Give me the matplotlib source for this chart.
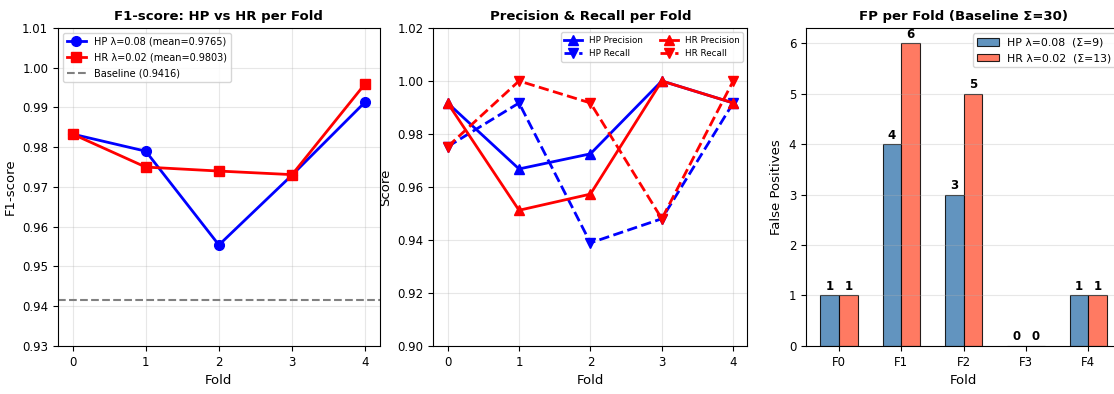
import numpy as np
import matplotlib
matplotlib.use('Agg')
import matplotlib.pyplot as plt

# data
folds = [0, 1, 2, 3, 4]
fold_labels = ['F0', 'F1', 'F2', 'F3', 'F4']

f1_hp = [0.9833, 0.9790, 0.9554, 0.9730, 0.9914]
f1_hr = [0.9833, 0.9750, 0.9740, 0.9731, 0.9960]
baseline_f1 = 0.9416

prec_hp = [0.9917, 0.9668, 0.9725, 1.0000, 0.9917]
rec_hp = [0.9752, 0.9917, 0.9389, 0.9480, 0.9917]
prec_hr = [0.9917, 0.9512, 0.9573, 1.0000, 0.9917]
rec_hr = [0.9752, 1.0000, 0.9917, 0.9480, 1.0000]

fp_hp = [1, 4, 3, 0, 1]
fp_hr = [1, 6, 5, 0, 1]

fig = plt.figure(figsize=(11.14, 3.94), dpi=100)
ax1 = fig.add_axes([0.052, 0.122, 0.289, 0.807])
ax2 = fig.add_axes([0.389, 0.122, 0.282, 0.807])
ax3 = fig.add_axes([0.7235, 0.122, 0.283, 0.807])

tick_fs = 8.5
lab_fs = 9.5
title_fs = 9.5

# panel 1: F1-score
ax1.plot(folds, f1_hp, 'o-', color='blue', lw=2, ms=7, label='HP λ=0.08 (mean=0.9765)')
ax1.plot(folds, f1_hr, 's-', color='red', lw=2, ms=7, label='HR λ=0.02 (mean=0.9803)')
ax1.axhline(baseline_f1, color='gray', ls='--', lw=1.5, label='Baseline (0.9416)')
ax1.set_ylim(0.93, 1.01)
ax1.set_xticks(folds)
ax1.set_xlabel('Fold', fontsize=lab_fs)
ax1.set_ylabel('F1-score', fontsize=lab_fs)
ax1.set_title('F1-score: HP vs HR per Fold', fontsize=title_fs, fontweight='bold')
ax1.grid(True, alpha=0.3)
ax1.legend(loc='upper left', fontsize=7, labelspacing=0.6)
ax1.tick_params(labelsize=tick_fs)

# panel 2: precision & recall
ax2.plot(folds, prec_hp, '^-', color='blue', lw=2, ms=7, label='HP Precision')
ax2.plot(folds, rec_hp, 'v--', color='blue', lw=2, ms=7, label='HP Recall')
ax2.plot(folds, prec_hr, '^-', color='red', lw=2, ms=7, label='HR Precision')
ax2.plot(folds, rec_hr, 'v--', color='red', lw=2, ms=7, label='HR Recall')
ax2.set_ylim(0.90, 1.02)
ax2.set_xticks(folds)
ax2.set_xlabel('Fold', fontsize=lab_fs)
ax2.set_ylabel('Score', fontsize=lab_fs)
ax2.set_title('Precision & Recall per Fold', fontsize=title_fs, fontweight='bold')
ax2.grid(True, alpha=0.3)
ax2.legend(loc='upper right', ncol=2, fontsize=6.3)
ax2.tick_params(labelsize=tick_fs)

# panel 3: false positives
x = np.arange(len(fold_labels))
w = 0.3
b1 = ax3.bar(x - w / 2, fp_hp, w, color='steelblue', alpha=0.85, edgecolor='black',
             linewidth=0.8, label='HP λ=0.08  (Σ=9)')
b2 = ax3.bar(x + w / 2, fp_hr, w, color='tomato', alpha=0.85, edgecolor='black',
             linewidth=0.8, label='HR λ=0.02  (Σ=13)')
for bars in (b1, b2):
    for b in bars:
        ax3.text(b.get_x() + b.get_width() / 2, b.get_height() + 0.05, str(int(b.get_height())),
                 ha='center', va='bottom', fontsize=8.5, fontweight='bold')
ax3.set_xticks(x)
ax3.set_xticklabels(fold_labels)
ax3.set_xlabel('Fold', fontsize=lab_fs)
ax3.set_ylabel('False Positives', fontsize=lab_fs)
ax3.set_title('FP per Fold (Baseline Σ=30)', fontsize=title_fs, fontweight='bold')
ax3.grid(True, axis='y', alpha=0.3)
ax3.legend(loc='upper right', fontsize=7.8)
ax3.tick_params(labelsize=tick_fs)

fig.savefig('out.png', dpi=100)
